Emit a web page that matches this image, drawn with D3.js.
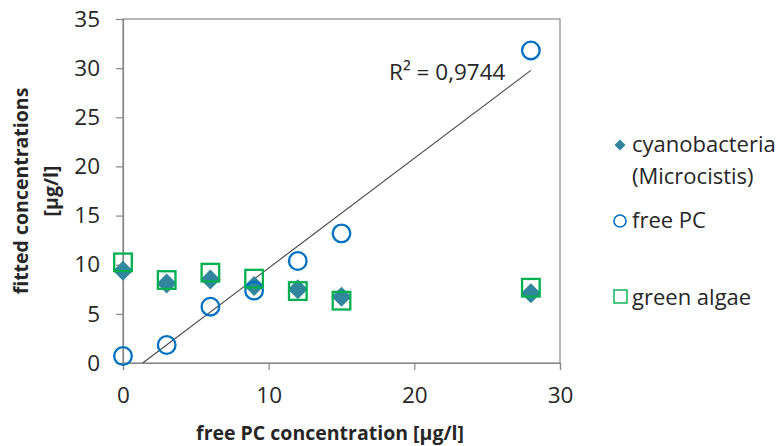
<!DOCTYPE html>
<html><head><meta charset="utf-8">
<script src="https://cdn.jsdelivr.net/npm/d3@7"></script>
<style>body{margin:0;background:#fff}svg{display:block}text{font-family:"Open Sans",sans-serif;fill:#262626}</style>
</head><body>
<script>
const xValues = [0, 3, 6, 9, 12, 15, 28];
const cyanobacteria = [9.39, 8.1, 8.5, 7.83, 7.5, 6.75, 7.09];
const freePC = [0.71, 1.83, 5.73, 7.36, 10.38, 13.19, 31.8];
const greenAlgae = [10.24, 8.44, 9.19, 8.58, 7.32, 6.34, 7.66];
const xTicks = [0, 10, 20, 30];
const yTicks = [0, 5, 10, 15, 20, 25, 30, 35];
const seriesNames = ["cyanobacteria", "(Microcistis)", "free PC", "green algae"];
const r2Label = "R² = 0,9744";

const W = 781, H = 446;
const m = {l:123, r:560, t:19, b:363};
const svg = d3.select("body").append("svg").attr("width", W).attr("height", H);
const x = d3.scaleLinear().domain([0, 30]).range([m.l, m.r]);
const y = d3.scaleLinear().domain([0, 35]).range([m.b, m.t]);
const axisCol = "#878787";

// frame
svg.append("rect").attr("x", m.l).attr("y", m.t).attr("width", m.r - m.l).attr("height", m.b - m.t)
  .attr("fill", "none").attr("stroke", axisCol).attr("stroke-width", 1.2);

const xa = svg.append("g").attr("transform", `translate(0,${m.b})`)
  .call(d3.axisBottom(x).tickValues(xTicks).tickSize(7).tickPadding(17).tickFormat(d3.format("d")));
const ya = svg.append("g").attr("transform", `translate(${m.l},0)`)
  .call(d3.axisLeft(y).tickValues(yTicks).tickSize(7).tickPadding(16).tickFormat(d3.format("d")));
[xa, ya].forEach(a => {
  a.select(".domain").attr("stroke", axisCol).attr("stroke-width", 1.2);
  a.selectAll(".tick line").attr("stroke", axisCol).attr("stroke-width", 1.2);
  a.selectAll(".tick text").attr("font-size", 22.5).attr("fill", "#262626").style("font-family", '"Open Sans",sans-serif');
});
ya.selectAll(".tick text").attr("x", -23);

// trendline (least squares on free PC)
const mx = d3.mean(xValues), my = d3.mean(freePC);
const slope = d3.sum(xValues.map((v,i) => (v-mx)*(freePC[i]-my))) / d3.sum(xValues.map(v => (v-mx)*(v-mx)));
const icpt = my - slope*mx;
svg.append("clipPath").attr("id","clip").append("rect").attr("x", m.l).attr("y", m.t).attr("width", m.r-m.l).attr("height", m.b-m.t);
const x0 = Math.max(0, -icpt/slope), x1 = d3.max(xValues);
svg.append("line").attr("clip-path","url(#clip)")
  .attr("x1", x(x0)).attr("y1", y(slope*x0+icpt)).attr("x2", x(x1)).attr("y2", y(slope*x1+icpt))
  .attr("stroke", "#404040").attr("stroke-width", 1.1);

const cyanCol = "#31859C", pcCol = "#0070C0", greenCol = "#00B050";

// cyanobacteria diamonds
svg.append("g").selectAll("path").data(xValues).join("path")
  .attr("d", d3.symbol().type(d3.symbolSquare).size(200)())
  .attr("transform", (d,i) => `translate(${x(d)},${y(cyanobacteria[i])}) rotate(45)`)
  .attr("fill", cyanCol);
// free PC circles
svg.append("g").selectAll("circle").data(xValues).join("circle")
  .attr("cx", d => x(d)).attr("cy", (d,i) => y(freePC[i])).attr("r", 8.8)
  .attr("fill", "none").attr("stroke", pcCol).attr("stroke-width", 2.3);
// green algae squares
svg.append("g").selectAll("rect").data(xValues).join("rect")
  .attr("x", d => x(d) - 8.8).attr("y", (d,i) => y(greenAlgae[i]) - 8.8).attr("width", 17.6).attr("height", 17.6)
  .attr("fill", "none").attr("stroke", greenCol).attr("stroke-width", 2.3);

// R2 label
svg.append("text").attr("x", 389).attr("y", 80).attr("font-size", 22.5).text(r2Label);

// axis titles
svg.append("text").attr("x", 330).attr("y", 440).attr("text-anchor", "middle")
  .attr("font-size", 19.5).attr("font-weight", "bold").text("free PC concentration [µg/l]");
const yt = svg.append("g").attr("transform", `translate(0,${(m.t+m.b)/2}) rotate(-90)`);
yt.append("text").attr("x", 0).attr("y", 28).attr("text-anchor", "middle")
  .attr("font-size", 19.5).attr("font-weight", "bold").text("fitted concentrations");
yt.append("text").attr("x", 0).attr("y", 58).attr("text-anchor", "middle")
  .attr("font-size", 19.5).attr("font-weight", "bold").text("[µg/l]");

// legend
const lg = svg.append("g");
lg.append("path").attr("d", d3.symbol().type(d3.symbolSquare).size(60)())
  .attr("transform", "translate(620,145) rotate(45)").attr("fill", cyanCol);
lg.append("text").attr("x", 632).attr("y", 152).attr("font-size", 22).text(seriesNames[0]);
lg.append("text").attr("x", 632).attr("y", 184).attr("font-size", 22).text(seriesNames[1]);
lg.append("circle").attr("cx", 620).attr("cy", 221).attr("r", 6).attr("fill", "none").attr("stroke", pcCol).attr("stroke-width", 1.6);
lg.append("text").attr("x", 632).attr("y", 228).attr("font-size", 22).text(seriesNames[2]);
lg.append("rect").attr("x", 614).attr("y", 290).attr("width", 13).attr("height", 13).attr("fill", "none").attr("stroke", greenCol).attr("stroke-width", 1.4);
lg.append("text").attr("x", 632).attr("y", 305).attr("font-size", 22).text(seriesNames[3]);
</script>
</body></html>
